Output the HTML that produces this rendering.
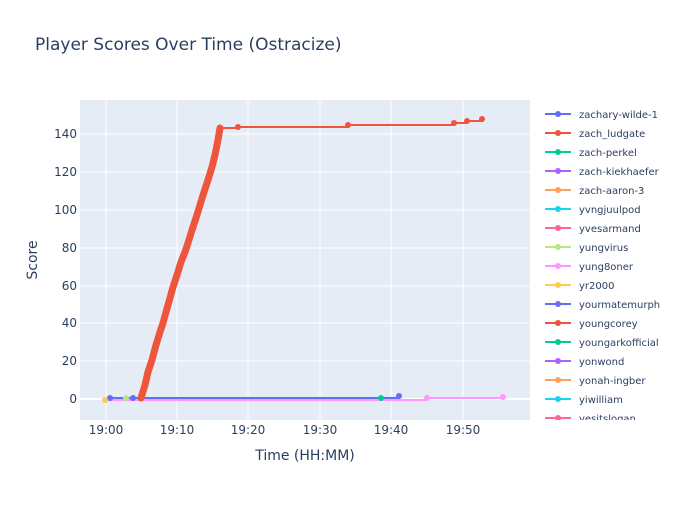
<!DOCTYPE html>
<html><head><style>body{margin:0;background:#fff}svg{font-family:"DejaVu Sans","Liberation Sans",sans-serif}</style></head><body>
<svg width="700" height="500" xmlns="http://www.w3.org/2000/svg">
<rect width="700" height="500" fill="#fff"/>
<text x="35" y="50" font-size="17" fill="#2a3f5f">Player Scores Over Time (Ostracize)</text>
<rect x="80" y="100" width="450" height="320" fill="#e5ecf6"/>
<g stroke="#fff" stroke-width="1">
<line x1="80" x2="530" y1="361" y2="361"/><line x1="80" x2="530" y1="323" y2="323"/><line x1="80" x2="530" y1="286" y2="286"/><line x1="80" x2="530" y1="248" y2="248"/><line x1="80" x2="530" y1="210" y2="210"/><line x1="80" x2="530" y1="172" y2="172"/><line x1="80" x2="530" y1="134" y2="134"/>
<line y1="100" y2="420" x1="106" x2="106"/><line y1="100" y2="420" x1="177" x2="177"/><line y1="100" y2="420" x1="248" x2="248"/><line y1="100" y2="420" x1="320" x2="320"/><line y1="100" y2="420" x1="391" x2="391"/><line y1="100" y2="420" x1="463" x2="463"/>
</g>
<line x1="80" x2="530" y1="399" y2="399" stroke="#fff" stroke-width="2"/>
<g font-size="12" fill="#2a3f5f" text-anchor="end">
<text x="77" y="403">0</text><text x="77" y="365">20</text><text x="77" y="327">40</text><text x="77" y="290">60</text><text x="77" y="252">80</text><text x="77" y="214">100</text><text x="77" y="176">120</text><text x="77" y="138">140</text></g>
<g font-size="12" fill="#2a3f5f" text-anchor="middle">
<text x="106" y="434">19:00</text><text x="177" y="434">19:10</text><text x="248" y="434">19:20</text><text x="320" y="434">19:30</text><text x="391" y="434">19:40</text><text x="463" y="434">19:50</text>
<text x="305" y="460" font-size="14">Time (HH:MM)</text>
<text transform="translate(37,260) rotate(-90)" font-size="14">Score</text></g>
<polyline points="106,400 427,400 427,398 503,398 503,397" fill="none" stroke="#ff97ff" stroke-width="2"/>
<circle cx="427" cy="398" r="3" fill="#ff97ff"/><circle cx="503" cy="397" r="3" fill="#ff97ff"/>
<polyline points="110,398 399,398 399,396" fill="none" stroke="#636efa" stroke-width="2"/>
<circle cx="110" cy="398" r="3" fill="#636efa"/><circle cx="133" cy="398" r="3" fill="#636efa"/><circle cx="399" cy="396" r="3" fill="#636efa"/>
<circle cx="381" cy="398" r="3" fill="#00cc96"/><circle cx="126" cy="398" r="3" fill="#b6e880"/><circle cx="105" cy="400" r="3" fill="#fecb52"/>
<polyline points="220,128 238,128 238,127 348,127 348,125 454,125 454,123 467,123 467,121 482,121 482,119" fill="none" stroke="#ef553b" stroke-width="2"/>
<polyline points="141,398 145,385 148,372 152,360 156,345 160,332 163,323 166,312 170,298 173,287 177,275 181,262 185,252 188,243 192,230 196,218 200,205 204,192 208,180 212,167 215,155 218,140 220,128" fill="none" stroke="#ef553b" stroke-width="7" stroke-linejoin="round" stroke-linecap="round"/>
<g fill="#ef553b"><circle cx="238" cy="127" r="3"/><circle cx="348" cy="125" r="3"/><circle cx="454" cy="123" r="3"/><circle cx="467" cy="121" r="3"/><circle cx="482" cy="119" r="3"/></g>
<g font-size="10" fill="#2a3f5f">
<g stroke-width="2">
<line x1="545" x2="571" y1="114" y2="114" stroke="#636efa"/><circle cx="558" cy="114" r="3" fill="#636efa"/><text x="579" y="118">zachary-wilde-1</text>
<line x1="545" x2="571" y1="133" y2="133" stroke="#ef553b"/><circle cx="558" cy="133" r="3" fill="#ef553b"/><text x="579" y="137">zach_ludgate</text>
<line x1="545" x2="571" y1="152" y2="152" stroke="#00cc96"/><circle cx="558" cy="152" r="3" fill="#00cc96"/><text x="579" y="156">zach-perkel</text>
<line x1="545" x2="571" y1="171" y2="171" stroke="#ab63fa"/><circle cx="558" cy="171" r="3" fill="#ab63fa"/><text x="579" y="175">zach-kiekhaefer</text>
<line x1="545" x2="571" y1="190" y2="190" stroke="#ffa15a"/><circle cx="558" cy="190" r="3" fill="#ffa15a"/><text x="579" y="194">zach-aaron-3</text>
<line x1="545" x2="571" y1="209" y2="209" stroke="#19d3f3"/><circle cx="558" cy="209" r="3" fill="#19d3f3"/><text x="579" y="213">yvngjuulpod</text>
<line x1="545" x2="571" y1="228" y2="228" stroke="#ff6692"/><circle cx="558" cy="228" r="3" fill="#ff6692"/><text x="579" y="232">yvesarmand</text>
<line x1="545" x2="571" y1="247" y2="247" stroke="#b6e880"/><circle cx="558" cy="247" r="3" fill="#b6e880"/><text x="579" y="251">yungvirus</text>
<line x1="545" x2="571" y1="266" y2="266" stroke="#ff97ff"/><circle cx="558" cy="266" r="3" fill="#ff97ff"/><text x="579" y="270">yung8oner</text>
<line x1="545" x2="571" y1="285" y2="285" stroke="#fecb52"/><circle cx="558" cy="285" r="3" fill="#fecb52"/><text x="579" y="289">yr2000</text>
<line x1="545" x2="571" y1="304" y2="304" stroke="#636efa"/><circle cx="558" cy="304" r="3" fill="#636efa"/><text x="579" y="308">yourmatemurph</text>
<line x1="545" x2="571" y1="323" y2="323" stroke="#ef553b"/><circle cx="558" cy="323" r="3" fill="#ef553b"/><text x="579" y="327">youngcorey</text>
<line x1="545" x2="571" y1="342" y2="342" stroke="#00cc96"/><circle cx="558" cy="342" r="3" fill="#00cc96"/><text x="579" y="346">youngarkofficial</text>
<line x1="545" x2="571" y1="361" y2="361" stroke="#ab63fa"/><circle cx="558" cy="361" r="3" fill="#ab63fa"/><text x="579" y="365">yonwond</text>
<line x1="545" x2="571" y1="380" y2="380" stroke="#ffa15a"/><circle cx="558" cy="380" r="3" fill="#ffa15a"/><text x="579" y="384">yonah-ingber</text>
<line x1="545" x2="571" y1="399" y2="399" stroke="#19d3f3"/><circle cx="558" cy="399" r="3" fill="#19d3f3"/><text x="579" y="403">yiwilliam</text>
<line x1="545" x2="571" y1="418" y2="418" stroke="#ff6692"/><circle cx="558" cy="418" r="3" fill="#ff6692"/><text x="579" y="422">yesitslogan</text>
</g></g>
<rect x="540" y="420" width="160" height="20" fill="#fff"/>
</svg>
</body></html>
